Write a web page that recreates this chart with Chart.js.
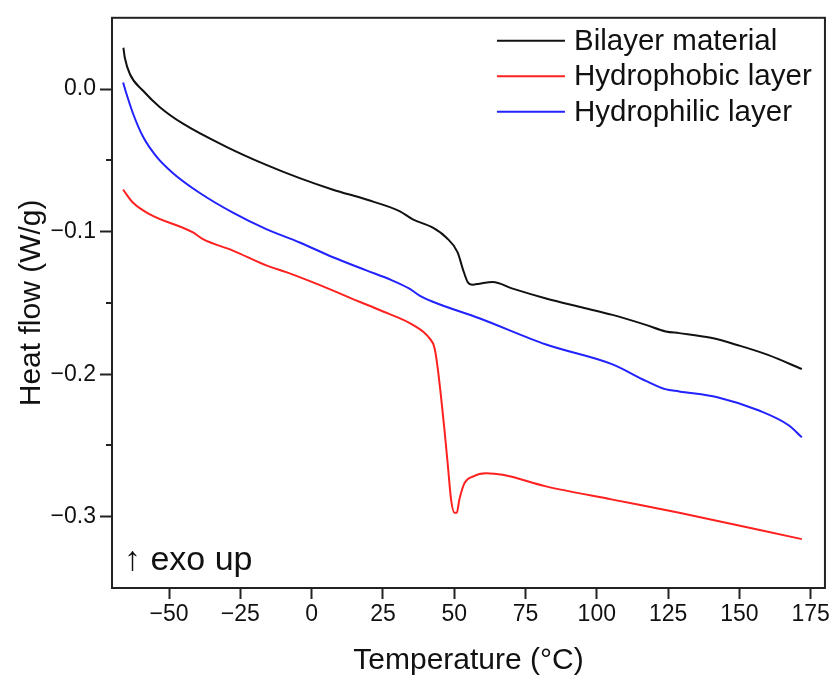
<!DOCTYPE html>
<html>
<head>
<meta charset="utf-8">
<script src="https://cdn.jsdelivr.net/npm/chart.js@4/dist/chart.umd.min.js"></script>
<style>
  html, body { margin: 0; padding: 0; background: #fff; }
  #wrap { width: 832px; height: 680px; }
</style>
</head>
<body>
<div id="wrap"><canvas id="dsc" width="832" height="680"></canvas></div>
<script>
// DSC curves (temperature in °C, heat flow in W/g)
var bilayerTemp = [-66, -65.5, -63.7, -59.1, -53.2, -45.1, -29.9, -15.9, -4.2, 7.5, 19.2, 30.8, 35.5, 42.5, 47.2, 51.2, 53.0, 54.7, 56.5, 58.8, 63.5, 70.5, 82.2, 93.8, 105.5, 117.2, 124.2, 128.9, 140, 150, 160, 171.9];
var bilayerHeat = [0.029, 0.022, 0.0104, -0.0012, -0.0127, -0.0243, -0.0405, -0.0532, -0.0625, -0.0706, -0.0775, -0.0856, -0.0914, -0.0972, -0.1041, -0.1145, -0.1261, -0.1353, -0.1372, -0.1365, -0.1353, -0.14, -0.1469, -0.1527, -0.1584, -0.1654, -0.17, -0.1712, -0.1745, -0.18, -0.1865, -0.1964];

var phobicTemp = [-66.1, -62.6, -56.7, -41.6, -38.1, -27.6, -15.9, -8.9, 1.6, 16.8, 23.8, 35.5, 41.3, 43.1, 44.2, 45.4, 46.6, 47.7, 48.9, 50.1, 50.9, 51.8, 53.6, 56.5, 61.2, 67.0, 82.2, 105.5, 128.9, 171.9];
var phobicHeat = [-0.0706, -0.0798, -0.0879, -0.1006, -0.1053, -0.1133, -0.1237, -0.1284, -0.1365, -0.1492, -0.155, -0.1654, -0.1747, -0.1816, -0.1955, -0.2163, -0.2394, -0.2625, -0.288, -0.2972, -0.2972, -0.288, -0.2764, -0.2718, -0.2695, -0.2706, -0.2787, -0.288, -0.2972, -0.3157];

var philicTemp = [-66.1, -64.9, -62.6, -59.1, -54.4, -48.6, -39.2, -27.6, -15.9, -4.2, 7.5, 19.2, 28, 34.3, 38, 42.5, 58.8, 82.2, 105.5, 117.2, 124, 128.9, 142.9, 156.9, 167.4, 171.9];
var philicHeat = [0.0046, -0.0035, -0.0173, -0.0335, -0.0474, -0.059, -0.0729, -0.0867, -0.0983, -0.1076, -0.118, -0.1272, -0.134, -0.14, -0.145, -0.1492, -0.1608, -0.1792, -0.1931, -0.2047, -0.2105, -0.2121, -0.2165, -0.2255, -0.236, -0.2443];

var seriesNames = ['Bilayer material', 'Hydrophobic layer', 'Hydrophilic layer'];

var xTicks = [-50, -25, 0, 25, 50, 75, 100, 125, 150, 175];
var xTickLabels = ['\u221250', '\u221225', '0', '25', '50', '75', '100', '125', '150', '175'];
var yTicks = [-0.3, -0.2, -0.1, 0.0];
var yTickLabels = ['\u22120.3', '\u22120.2', '\u22120.1', '0.0'];
var yMinorTicks = [-0.25, -0.15, -0.05];

function toPoints(xs, ys) {
  var pts = [];
  for (var i = 0; i < xs.length; i++) pts.push({ x: xs[i], y: ys[i] });
  return pts;
}

var ink = '#222';
var fontFamily = '"Liberation Sans", Arial, sans-serif';

// frame, minor ticks, legend and the "exo up" note
var extras = {
  id: 'extras',
  afterDraw: function (chart) {
    var ctx = chart.ctx, a = chart.chartArea, ys = chart.scales.y;
    ctx.save();
    ctx.strokeStyle = ink;
    ctx.lineWidth = 2;
    ctx.strokeRect(a.left, a.top, a.right - a.left, a.bottom - a.top);

    yMinorTicks.forEach(function (v) {
      var py = Math.round(ys.getPixelForValue(v));
      ctx.beginPath();
      ctx.moveTo(a.left - 6, py);
      ctx.lineTo(a.left, py);
      ctx.stroke();
    });

    // legend
    ctx.font = '29.5px ' + fontFamily;
    ctx.textBaseline = 'middle';
    ctx.textAlign = 'left';
    chart.data.datasets.forEach(function (ds, i) {
      var y = a.top + 23 + i * 35.5;
      ctx.strokeStyle = ds.borderColor;
      ctx.lineWidth = 2;
      ctx.beginPath();
      ctx.moveTo(a.right - 328, y);
      ctx.lineTo(a.right - 260, y);
      ctx.stroke();
      ctx.fillStyle = '#111';
      ctx.fillText(ds.label, a.right - 251, y + 1);
    });

    ctx.font = '34px ' + fontFamily;
    ctx.textBaseline = 'alphabetic';
    ctx.fillStyle = '#111';
    ctx.fillText('\u2191 exo up', a.left + 12, a.bottom - 18);
    ctx.restore();
  }
};

var ctx = document.getElementById('dsc').getContext('2d');
new Chart(ctx, {
  type: 'scatter',
  data: {
    datasets: [
      { label: seriesNames[0], data: toPoints(bilayerTemp, bilayerHeat), borderColor: '#111111' },
      { label: seriesNames[1], data: toPoints(phobicTemp, phobicHeat), borderColor: '#ff2020' },
      { label: seriesNames[2], data: toPoints(philicTemp, philicHeat), borderColor: '#2222ff' }
    ]
  },
  options: {
    responsive: false,
    animation: false,
    showLine: true,
    layout: { padding: { left: 0, right: 6, top: 13, bottom: 0 } },
    elements: {
      point: { radius: 0, hoverRadius: 0 },
      line: { borderWidth: 2, cubicInterpolationMode: 'monotone', fill: false }
    },
    plugins: { legend: { display: false }, tooltip: { enabled: false } },
    scales: {
      x: {
        type: 'linear',
        min: -70,
        max: 180,
        afterBuildTicks: function (scale) {
          scale.ticks = xTicks.map(function (v) { return { value: v }; });
        },
        afterFit: function (scale) { scale.height = 92; },
        border: { display: false },
        grid: { drawOnChartArea: false, drawTicks: true, tickLength: 11, tickWidth: 2, tickColor: ink },
        ticks: {
          padding: 2,
          color: '#111',
          font: { family: fontFamily, size: 23 },
          maxRotation: 0,
          callback: function (v) { return xTickLabels[xTicks.indexOf(v)]; }
        },
        title: {
          display: true,
          text: 'Temperature (\u00b0C)',
          color: '#111',
          font: { family: fontFamily, size: 30 },
          padding: { top: 0, bottom: 1 }
        }
      },
      y: {
        type: 'linear',
        min: -0.35,
        max: 0.05,
        afterBuildTicks: function (scale) {
          scale.ticks = yTicks.map(function (v) { return { value: v }; });
        },
        afterFit: function (scale) { scale.width = 112; },
        border: { display: false },
        grid: { drawOnChartArea: false, drawTicks: true, tickLength: 12, tickWidth: 2, tickColor: ink },
        ticks: {
          padding: 4,
          color: '#111',
          font: { family: fontFamily, size: 23 },
          callback: function (v) {
            for (var i = 0; i < yTicks.length; i++) {
              if (Math.abs(yTicks[i] - v) < 1e-9) return yTickLabels[i];
            }
            return '';
          }
        },
        title: {
          display: true,
          text: 'Heat flow (W/g)',
          color: '#111',
          font: { family: fontFamily, size: 30 },
          padding: { top: 14, bottom: 0 }
        }
      }
    }
  },
  plugins: [extras]
});
</script>
</body>
</html>
